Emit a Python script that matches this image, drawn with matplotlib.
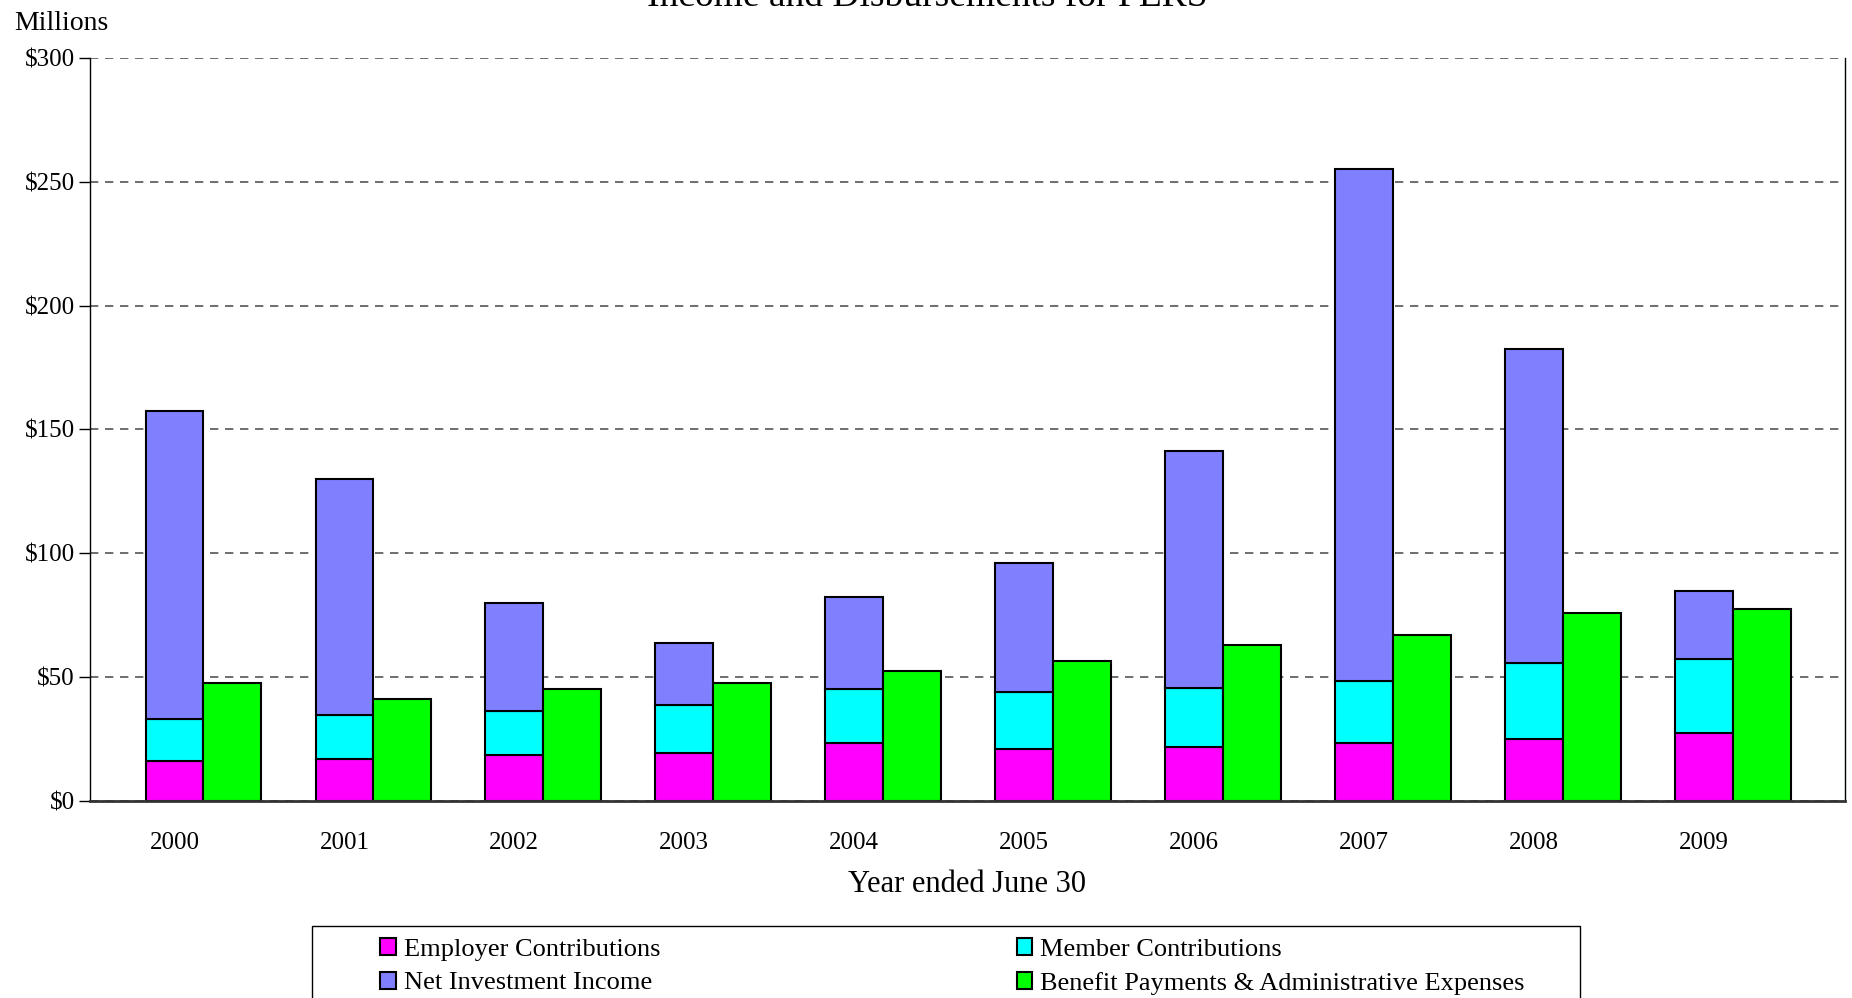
import matplotlib.pyplot as plt
import numpy as np
from matplotlib.patches import Rectangle

plt.rcParams['font.family'] = ['Liberation Serif', 'DejaVu Serif']

years = ['2000', '2001', '2002', '2003', '2004', '2005', '2006', '2007', '2008', '2009']
employer = [16.2, 17.1, 18.6, 19.3, 23.4, 20.9, 21.8, 23.3, 24.9, 27.4]
member = [16.8, 17.5, 17.6, 19.5, 21.8, 23.3, 24.0, 25.0, 30.7, 30.0]
net_invest = [124.6, 95.5, 43.8, 25.0, 37.2, 51.8, 95.5, 207.0, 127.0, 27.2]
benefits = [47.7, 41.2, 45.3, 47.7, 52.5, 56.6, 63.0, 66.9, 76.0, 77.6]

fig = plt.figure(figsize=(18.52, 9.98), dpi=100)
ax = fig.add_axes([90/1852, 1-801/998, 1755/1852, 743/998])

x = np.arange(len(years))
w = 0.34
ec = dict(edgecolor='black', linewidth=1.5)
e = np.array(employer)
m = np.array(member)
ax.bar(x, employer, w, color='#FF00FF', label='Employer Contributions', **ec, zorder=3)
ax.bar(x, member, w, bottom=e, color='#00FFFF', label='Member Contributions', **ec, zorder=3)
ax.bar(x, net_invest, w, bottom=e+m, color='#8080FF', label='Net Investment Income', **ec, zorder=3)
ax.bar(x+w, benefits, w, color='#00FF00', label='Benefit Payments & Administrative Expenses', **ec, zorder=3)

ax.set_xlim(-0.497, 9 + w + 0.49)
ax.set_ylim(0, 300)
ax.set_yticks(range(0, 301, 50))
ax.set_yticklabels(['$%d' % v for v in range(0, 301, 50)])
ax.set_xticks(x)
ax.set_xticklabels(years)
ax.tick_params(axis='y', length=8, width=1, pad=3, labelsize=18)
ax.tick_params(axis='x', length=0, pad=22, labelsize=18)
ax.yaxis.grid(True, linestyle=(0, (5, 4)), color='#555555', linewidth=1.2, zorder=0)
ax.set_axisbelow(True)
ax.spines['top'].set_visible(False)
ax.spines['right'].set_linewidth(1)
ax.spines['left'].set_linewidth(1)
ax.spines['bottom'].set_linewidth(2)
ax.spines['bottom'].set_color('#333333')
ax.spines['bottom'].set_zorder(4)

ax.set_xlabel('Year ended June 30', fontsize=22, labelpad=12)

fig.text(14/1852, 1-24/998, 'Millions', fontsize=20, va='center', ha='left')
fig.text(927/1852, 1-6/998, 'Income and Disbursements for PERS', fontsize=27,
         ha='center', va='baseline')

# legend frame drawn separately, content placed inside
fig.patches.append(Rectangle((312/1852, -0.05), (1580-312)/1852, 0.05 + (998-926)/998,
                             transform=fig.transFigure, fill=False, edgecolor='black',
                             linewidth=1))
h, l = ax.get_legend_handles_labels()
order = [0, 2, 1, 3]
fig.legend([h[i] for i in order], [l[i] for i in order], ncol=2,
           loc='upper left', bbox_to_anchor=(380/1852, 1-938/998),
           frameon=False, fontsize=19, handlelength=0.6, handleheight=0.6,
           handletextpad=0.3, labelspacing=0.42, columnspacing=13.5,
           borderpad=0, borderaxespad=0)

fig.savefig('out.png', dpi=100)
